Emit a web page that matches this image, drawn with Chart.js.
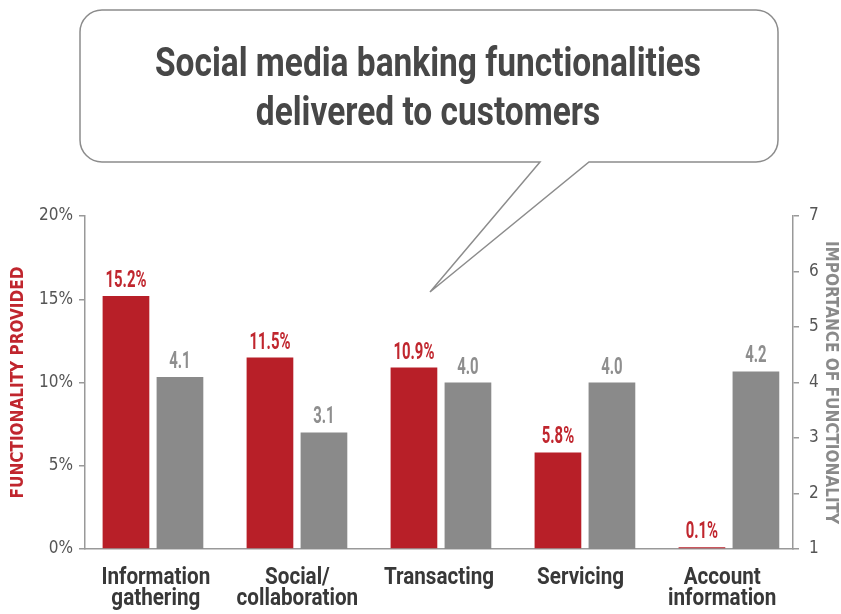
<!DOCTYPE html>
<html>
<head>
<meta charset="utf-8">
<script src="https://cdn.jsdelivr.net/npm/chart.js"></script>
<style>
  body { margin: 0; background: #fff; }
</style>
</head>
<body>
<canvas id="chart" width="841" height="614"></canvas>
<script>
// donnees
const categories = [['Information', 'gathering'], ['Social/', 'collaboration'], 'Transacting', 'Servicing', ['Account', 'information']];
const functionalityProvided = [15.2, 11.5, 10.9, 5.8, 0.1]; // en %
const importance = [4.1, 3.1, 4.0, 4.0, 4.2]; // echelle de 1 a 7
const leftTicks = [0, 5, 10, 15, 20];
const rightTicks = [1, 2, 3, 4, 5, 6, 7];
const titleLines = ['Social media banking functionalities', 'delivered to customers'];

const RED = '#b81f28';
const GREY = '#8a8a8a';
const COND = "'DejaVu Sans Condensed', sans-serif";
const TEXT = "Roboto, 'DejaVu Sans Condensed', sans-serif";

// texte ecrase horizontalement (police condensee)
function narrowText(ctx, txt, x, y, font, color, sx) {
    ctx.save();
    ctx.translate(x, y);
    ctx.scale(sx, 1);
    ctx.font = font;
    ctx.fillStyle = color;
    ctx.textAlign = 'center';
    ctx.textBaseline = 'alphabetic';
    ctx.fillText(txt, 0, 0);
    ctx.restore();
}

// bulle avec le titre, dessinee avant le graphe
const bubble = {
    id: 'bubble',
    beforeDraw(chart) {
        const ctx = chart.ctx;
        const x0 = 80, y0 = 10, x1 = 778, y1 = 162, r = 22;
        ctx.save();
        ctx.beginPath();
        ctx.moveTo(x0 + r, y0);
        ctx.lineTo(x1 - r, y0);
        ctx.arcTo(x1, y0, x1, y0 + r, r);
        ctx.lineTo(x1, y1 - r);
        ctx.arcTo(x1, y1, x1 - r, y1, r);
        ctx.lineTo(589, y1);
        ctx.lineTo(430, 292); // pointe
        ctx.lineTo(540, y1);
        ctx.lineTo(x0 + r, y1);
        ctx.arcTo(x0, y1, x0, y1 - r, r);
        ctx.lineTo(x0, y0 + r);
        ctx.arcTo(x0, y0, x0 + r, y0, r);
        ctx.closePath();
        ctx.fillStyle = '#fff';
        ctx.fill();
        ctx.strokeStyle = '#8c8c8c';
        ctx.lineWidth = 1.5;
        ctx.stroke();

        // titre : meme compression pour les deux lignes
        const font = 'bold 40px ' + TEXT;
        ctx.font = font;
        const sx = Math.min(1, 546 / ctx.measureText(titleLines[0]).width);
        narrowText(ctx, titleLines[0], 428, 76, font, '#474747', sx);
        narrowText(ctx, titleLines[1], 428, 125, font, '#474747', sx);
        ctx.restore();
    }
};

// valeurs au dessus des barres
const valueLabels = {
    id: 'valueLabels',
    afterDatasetsDraw(chart) {
        const ctx = chart.ctx;
        chart.data.datasets.forEach((ds, i) => {
            chart.getDatasetMeta(i).data.forEach((bar, j) => {
                const txt = i === 0 ? ds.data[j].toFixed(1) + '%' : ds.data[j].toFixed(1);
                narrowText(ctx, txt, bar.x, bar.y - 9, 'bold 24px ' + TEXT,
                    i === 0 ? '#c0262e' : '#8e8e8e', 0.62);
            });
        });
    }
};

// noms des categories sous l'axe x, repartis regulierement sur l'axe
const categoryLabels = {
    id: 'categoryLabels',
    afterDraw(chart) {
        const ctx = chart.ctx;
        const xs = chart.scales.x;
        const step = xs.width / categories.length;
        categories.forEach((lab, i) => {
            const lines = Array.isArray(lab) ? lab : [lab];
            lines.forEach((line, k) => {
                narrowText(ctx, line, xs.left + (i + 0.5) * step, xs.top + 35 + k * 21,
                    'bold 24px ' + TEXT, '#383838', 0.86);
            });
        });
    }
};

new Chart(document.getElementById('chart'), {
    type: 'bar',
    data: {
        labels: categories,
        datasets: [{
            label: 'Functionality provided',
            data: functionalityProvided,
            backgroundColor: RED,
            yAxisID: 'y'
        }, {
            label: 'Importance of functionality',
            data: importance,
            backgroundColor: GREY,
            yAxisID: 'y1'
        }]
    },
    options: {
        responsive: false,
        animation: false,
        layout: { padding: { top: 216 } },
        datasets: {
            bar: { categoryPercentage: 0.75, barPercentage: 0.865 }
        },
        plugins: {
            legend: { display: false },
            tooltip: { enabled: false }
        },
        scales: {
            x: {
                grid: { display: false, drawTicks: false },
                border: { color: '#999', width: 1.5 },
                ticks: { display: false },
                afterFit: s => { s.height = 65; },
                // les barres s'etalent un peu plus vers la droite
                afterUpdate: s => { s._startValue = -0.472; s._valueRange = 4.917; }
            },
            y: {
                position: 'left',
                min: 0,
                max: 20,
                afterBuildTicks: s => { s.ticks = leftTicks.map(v => ({ value: v })); },
                grid: { drawOnChartArea: false, tickLength: 6, color: '#999', lineWidth: 1.5 },
                border: { color: '#999', width: 1.5 },
                ticks: {
                    callback: v => v + '%',
                    color: '#555',
                    font: { family: COND, size: 17 },
                    padding: 6
                },
                title: {
                    display: true,
                    text: 'FUNCTIONALITY PROVIDED',
                    color: '#c0262e',
                    font: { family: COND, size: 17, weight: 'bold' },
                    padding: { top: 8, bottom: 0 }
                },
                afterFit: s => { s.width = 85; }
            },
            y1: {
                position: 'right',
                min: 1,
                max: 7,
                afterBuildTicks: s => { s.ticks = rightTicks.map(v => ({ value: v })); },
                grid: { drawOnChartArea: false, tickLength: 6, color: '#999', lineWidth: 1.5 },
                border: { color: '#999', width: 1.5 },
                ticks: {
                    color: '#555',
                    font: { family: COND, size: 17 },
                    padding: 10
                },
                title: {
                    display: true,
                    text: 'IMPORTANCE OF FUNCTIONALITY',
                    color: '#8a8a8a',
                    font: { family: COND, size: 17, weight: 'bold' },
                    padding: { top: 0, bottom: 0 }
                },
                afterFit: s => { s.width = 48; }
            }
        }
    },
    plugins: [bubble, valueLabels, categoryLabels]
});
</script>
</body>
</html>
